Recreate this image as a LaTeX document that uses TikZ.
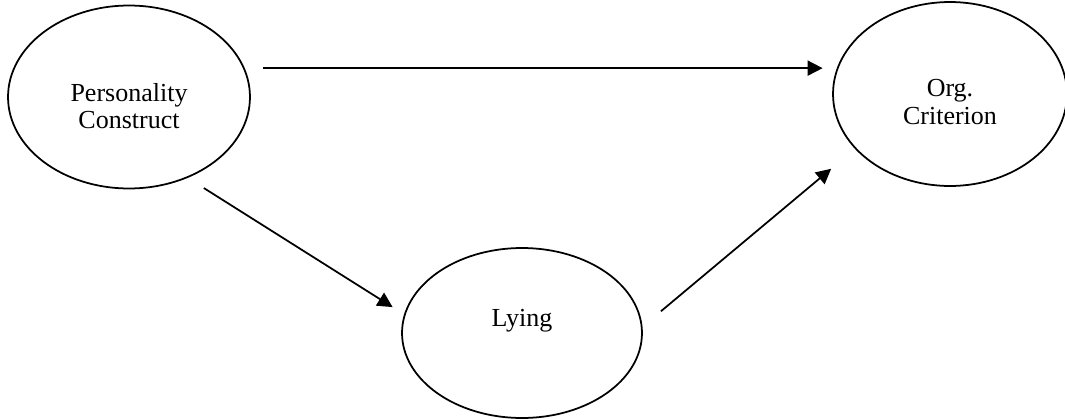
\documentclass[tikz,border=0pt]{standalone}
\usepackage{fontspec}
\setmainfont{Liberation Serif}
\usetikzlibrary{shapes.geometric,arrows.meta}

\newcommand*{\picw}{1065}
\newcommand*{\pich}{419}

\begin{document}
\begin{tikzpicture}[x=0.02cm,y=-0.02cm,
	oval/.style={draw,ellipse,line width=1pt,inner sep=0pt},
	txt/.style={align=center,inner sep=0pt,font=\fontsize{14.8}{15.4}\selectfont},
	arr/.style={line width=1pt,-{Triangle[length=0.3cm,width=0.3cm]}}]

	\useasboundingbox (0,0) rectangle (\picw,\pich);

	% constructs
	\node[oval,minimum width=4.84cm,minimum height=3.66cm] (pers) at (129,97) {};
	\node[oval,minimum width=4.68cm,minimum height=3.68cm] (crit) at (950,94) {};
	\node[oval,minimum width=4.8cm,minimum height=3.4cm] (lying) at (522,333) {};

	\node[txt] (perstxt) at ([yshift=-0.18cm]pers.center) {Personality\\Construct};
	\node[txt] (crittxt) at ([yshift=-0.16cm]crit.center) {Org.\\Criterion};
	\node[txt] (lyingtxt) at ([yshift=0.24cm]lying.center) {Lying};

	% paths
	\draw[arr,shorten <=0.37cm,shorten >=0.3cm] (pers.14.7) -- (pers.14.7 -| crit.166.4);
	\draw[arr,shorten <=0.38cm,shorten >=0.27cm] (pers.-54.4) -- (lying.171.4);
	\draw[arr,shorten <=0.48cm,shorten >=0.62cm] (lying.3.8) -- (crit.210.8);

\end{tikzpicture}
\end{document}
